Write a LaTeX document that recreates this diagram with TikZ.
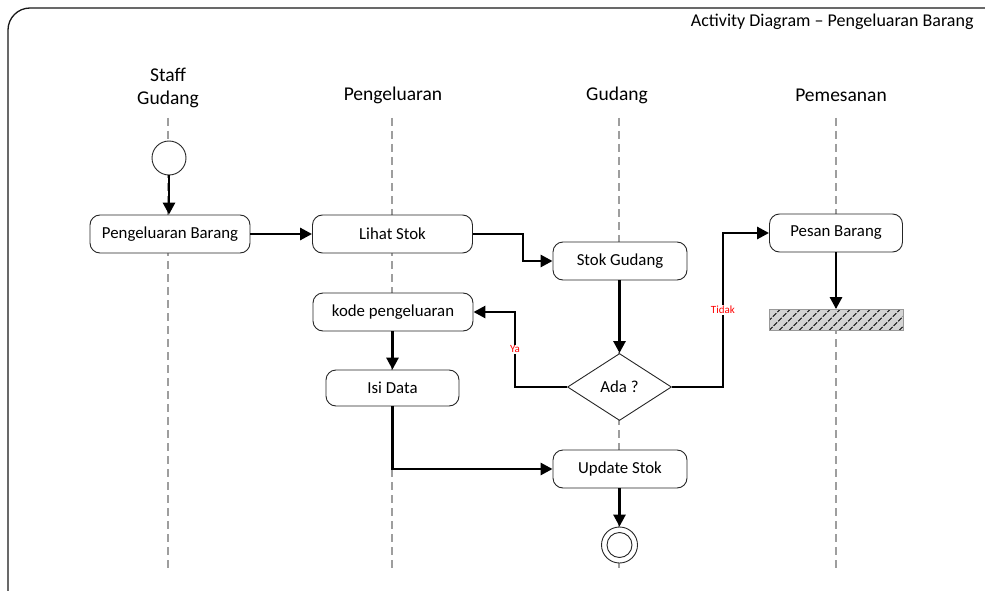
\documentclass[tikz,border=0pt]{standalone}
\usepackage{fontspec}
\setmainfont{Carlito}
\usetikzlibrary{shapes.geometric,arrows.meta}

\begin{document}
\begin{tikzpicture}[x=1pt,y=-1pt,
  act/.style={draw=black!85, line width=0.9pt, fill=white, rounded corners=10pt,
    minimum height=38pt, inner sep=0pt, font=\fontsize{16.8}{19}\selectfont},
  lane/.style={draw=black!38, line width=1.5pt, dash pattern=on 8pt off 5pt},
  head/.style={font=\fontsize{19.5}{23}\selectfont, align=center},
  flow/.style={line width=2.8pt, -{Triangle[length=12pt,width=12pt]}},
  guard/.style={text=red, fill=white, inner sep=1pt, font=\fontsize{11}{13}\selectfont}]

\useasboundingbox (0,0) rectangle (985,591);

% outer frame with title
\draw[line width=1.3pt, black!90, rounded corners=22pt] (8,600) -- (8,8) -- (995,8);
\node[anchor=east, font=\fontsize{18}{20}\selectfont] (title) at (977,22)
  {Activity Diagram – Pengeluaran Barang};

% lane headers
\node[head] (h1) at (168,88) {Staff\\Gudang};
\node[head] (h2) at (393,95) {Pengeluaran};
\node[head] (h3) at (617,95) {Gudang};
\node[head] (h4) at (841,95) {Pemesanan};

% lane lines
\coordinate (l1t) at (168,118); \coordinate (l1b) at (168,570);
\coordinate (l2t) at (392,118); \coordinate (l2b) at (392,570);
\coordinate (l3t) at (619,118); \coordinate (l3b) at (619,570);
\coordinate (l4t) at (836,118); \coordinate (l4b) at (836,570);
\draw[lane] (l1t) -- (l1b);
\draw[lane] (l2t) -- (l2b);
\draw[lane] (l3t) -- (l3b);
\draw[lane] (l4t) -- (l4b);

% nodes
\node[circle, draw=black!85, line width=0.9pt, fill=white, minimum size=34pt, inner sep=0pt]
  (ini) at (169,158) {};
\node[act, minimum width=160pt] (pb) at (170,234) {Pengeluaran Barang};
\node[act, minimum width=160pt] (lihat) at (392.5,234) {Lihat Stok};
\node[act, minimum width=134pt] (stok) at (620,261) {Stok Gudang};
\node[act, minimum width=133pt] (pesan) at (836,233) {Pesan Barang};
\node[act, minimum width=160pt] (kode) at (393,312) {kode pengeluaran};
\node[act, minimum width=133pt, minimum height=36pt] (isi) at (392.5,388) {Isi Data};
\node[act, minimum width=134pt] (update) at (620,469) {Update Stok};
\node[diamond, draw=black!85, line width=0.9pt, fill=white, minimum width=104pt,
  minimum height=67pt, inner sep=0pt, font=\fontsize{16.8}{19}\selectfont]
  (ada) at (619.5,387) {Ada ?};
\node[draw=black!40, fill=black!17, line width=0.8pt, minimum width=134pt,
  minimum height=21pt, inner sep=0pt,
  path picture={
    \foreach \i in {-30,-20,...,150}
      \draw[black, line width=0.75pt, dash pattern=on 5pt off 1.5pt]
        ([xshift=\i pt]path picture bounding box.south west) -- ++(22,-22);
  }] (bar) at (836,320) {};
\node[circle, draw=black!85, line width=0.9pt, fill=white, minimum size=36pt, inner sep=0pt,
  path picture={\draw[black!85, line width=0.9pt] (path picture bounding box.center) circle (12.5pt);}]
  (fin) at (619.5,545) {};

% control flow
\draw[flow] (ini.south) -- (ini.south |- pb.north);
\draw[flow] (pb) -- (lihat);
\draw[flow] (lihat.east) -- ++(50,0) |- (stok.west);
\draw[flow] (ada.north |- stok.south) -- (ada.north);
\draw[flow] (ada.west) -- ++(-52,0) |- node[guard, pos=0.25] {Ya} (kode.east);
\draw[flow] (ada.east) -- ++(51,0) |- node[guard, pos=0.25] {Tidak} (pesan.west);
\draw[flow] (isi.north |- kode.south) -- (isi.north);
\draw[flow] (isi.south) |- (update.west);
\draw[flow] (fin.north |- update.south) -- (fin.north);
\draw[flow] (pesan) -- (bar);

\end{tikzpicture}
\end{document}
